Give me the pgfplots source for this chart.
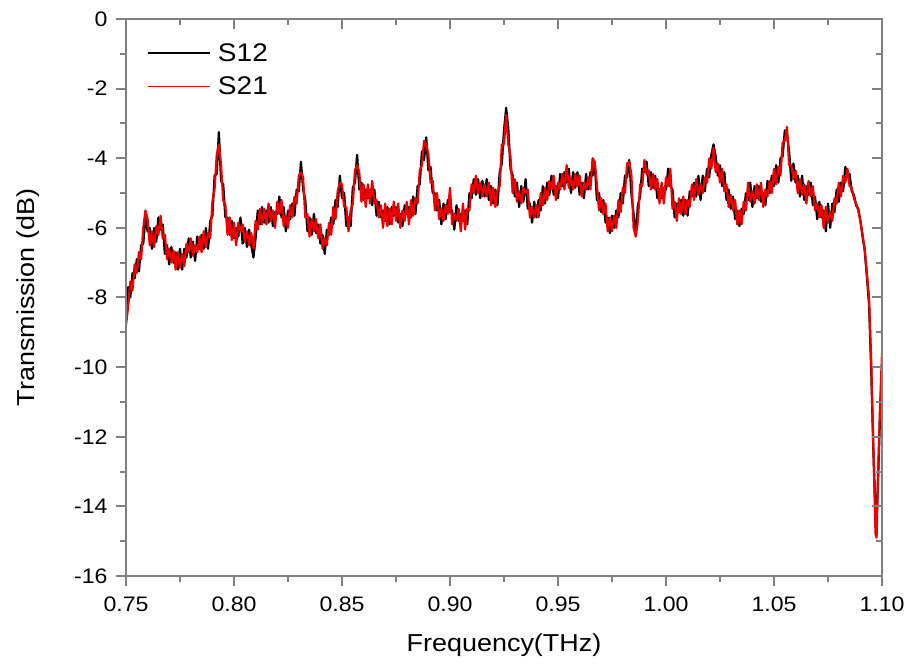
\documentclass[border=0pt]{standalone}
\usepackage{fontspec}
\setmainfont{Liberation Sans}[FakeStretch=1.1]
\usepackage{pgfplots}
\usepackage{pgfplotstable}
\pgfplotsset{compat=1.18}
\definecolor{axgray}{RGB}{128,128,128}
\definecolor{sred}{RGB}{238,0,0}

\pgfplotstableread{
x s12 s21
0.750 -8.60 -8.80
0.751 -7.70 -8.25
0.752 -8.00 -7.55
0.753 -7.30 -7.80
0.754 -7.45 -7.05
0.755 -6.90 -7.30
0.756 -7.25 -6.70
0.757 -6.50 -6.90
0.758 -6.45 -6.00
0.759 -5.70 -5.50
0.760 -6.10 -5.75
0.761 -6.00 -6.50
0.762 -6.60 -6.10
0.763 -6.00 -6.55
0.764 -6.40 -5.95
0.765 -5.70 -6.20
0.766 -6.05 -5.65
0.767 -5.90 -6.30
0.768 -6.75 -6.20
0.769 -6.50 -6.90
0.770 -7.05 -6.60
0.771 -6.55 -7.00
0.772 -7.00 -6.65
0.773 -6.70 -7.20
0.774 -7.20 -6.70
0.775 -6.60 -7.15
0.776 -7.20 -6.75
0.777 -6.60 -7.10
0.778 -6.85 -6.45
0.779 -6.30 -6.70
0.780 -6.85 -6.30
0.781 -6.40 -6.80
0.782 -6.95 -6.50
0.783 -6.25 -6.70
0.784 -6.60 -6.25
0.785 -6.20 -6.70
0.786 -6.60 -6.10
0.787 -6.00 -6.55
0.788 -6.60 -6.15
0.789 -5.80 -6.30
0.790 -5.65 -5.25
0.791 -4.50 -4.90
0.792 -4.45 -3.90
0.793 -3.25 -3.60
0.794 -4.65 -4.20
0.795 -4.75 -5.20
0.796 -5.70 -5.35
0.797 -5.70 -6.20
0.798 -6.20 -5.70
0.799 -5.80 -6.35
0.800 -6.30 -5.85
0.801 -6.00 -6.50
0.802 -6.25 -5.85
0.803 -5.70 -6.10
0.804 -6.45 -5.90
0.805 -6.00 -6.40
0.806 -6.55 -6.10
0.807 -6.05 -6.50
0.808 -6.50 -6.15
0.809 -6.85 -6.60
0.810 -6.30 -5.80
0.811 -5.50 -6.05
0.812 -5.90 -5.45
0.813 -5.40 -5.90
0.814 -5.85 -5.45
0.815 -5.50 -5.90
0.816 -5.85 -5.30
0.817 -5.40 -5.80
0.818 -5.95 -5.50
0.819 -5.55 -6.00
0.820 -5.60 -5.25
0.821 -5.10 -5.60
0.822 -5.70 -5.20
0.823 -5.40 -5.95
0.824 -6.10 -5.65
0.825 -5.50 -6.00
0.826 -5.75 -5.35
0.827 -5.30 -5.70
0.828 -5.65 -5.10
0.829 -4.90 -5.30
0.830 -4.95 -4.50
0.831 -4.10 -4.40
0.832 -4.90 -4.55
0.833 -5.20 -5.70
0.834 -6.10 -5.60
0.835 -5.70 -6.25
0.836 -6.20 -5.75
0.837 -5.60 -6.10
0.838 -6.15 -5.75
0.839 -5.90 -6.30
0.840 -6.45 -5.90
0.841 -6.20 -6.60
0.842 -6.75 -6.30
0.843 -6.05 -6.50
0.844 -6.20 -5.85
0.845 -5.70 -6.20
0.846 -5.90 -5.40
0.847 -5.20 -5.75
0.848 -5.40 -4.95
0.849 -4.50 -4.70
0.850 -5.15 -4.75
0.851 -5.00 -5.40
0.852 -5.95 -5.40
0.853 -5.70 -6.10
0.854 -5.95 -5.50
0.855 -4.85 -5.30
0.856 -4.70 -4.35
0.857 -3.90 -4.20
0.858 -4.90 -4.40
0.859 -4.70 -5.25
0.860 -5.20 -4.75
0.861 -4.90 -5.40
0.862 -5.15 -4.75
0.863 -4.90 -5.30
0.864 -5.35 -4.65
0.865 -4.90 -5.30
0.866 -5.65 -5.20
0.867 -5.25 -5.70
0.868 -5.70 -5.35
0.869 -5.50 -6.00
0.870 -5.80 -5.30
0.871 -5.40 -5.95
0.872 -5.90 -5.45
0.873 -5.40 -5.90
0.874 -5.65 -5.25
0.875 -5.40 -5.80
0.876 -5.85 -5.30
0.877 -5.60 -6.00
0.878 -5.95 -5.50
0.879 -5.35 -5.80
0.880 -5.60 -5.25
0.881 -5.40 -5.90
0.882 -5.70 -5.20
0.883 -5.10 -5.65
0.884 -5.60 -5.15
0.885 -4.80 -5.30
0.886 -4.75 -4.35
0.887 -3.80 -4.20
0.888 -4.05 -3.50
0.889 -3.40 -3.60
0.890 -4.35 -3.90
0.891 -4.25 -4.70
0.892 -5.00 -4.65
0.893 -5.00 -5.50
0.894 -5.50 -5.00
0.895 -5.20 -5.75
0.896 -5.90 -5.45
0.897 -5.30 -5.80
0.898 -5.75 -5.35
0.899 -5.20 -5.60
0.900 -5.55 -4.85
0.901 -5.50 -5.90
0.902 -6.05 -5.60
0.903 -5.35 -5.80
0.904 -5.80 -5.45
0.905 -5.60 -6.10
0.906 -5.80 -5.30
0.907 -5.50 -6.05
0.908 -5.90 -5.45
0.909 -5.00 -5.50
0.910 -5.15 -4.75
0.911 -4.60 -5.00
0.912 -5.05 -4.50
0.913 -4.60 -5.00
0.914 -5.15 -4.70
0.915 -4.65 -5.10
0.916 -5.10 -4.75
0.917 -4.60 -5.10
0.918 -5.20 -4.70
0.919 -4.80 -5.35
0.920 -5.30 -4.85
0.921 -4.90 -5.40
0.922 -5.35 -4.95
0.923 -4.40 -4.80
0.924 -4.15 -3.60
0.925 -3.20 -3.60
0.926 -2.55 -2.75
0.927 -3.15 -3.60
0.928 -4.30 -3.95
0.929 -4.50 -5.00
0.930 -5.10 -4.60
0.931 -4.70 -5.25
0.932 -5.40 -4.95
0.933 -4.80 -5.30
0.934 -5.25 -4.85
0.935 -4.60 -5.00
0.936 -5.45 -4.90
0.937 -5.30 -5.70
0.938 -5.85 -5.40
0.939 -5.25 -5.70
0.940 -5.70 -5.35
0.941 -5.20 -5.70
0.942 -5.50 -5.00
0.943 -4.80 -5.35
0.944 -5.30 -4.85
0.945 -4.70 -5.20
0.946 -5.05 -4.65
0.947 -4.50 -4.90
0.948 -5.05 -4.50
0.949 -4.80 -5.20
0.950 -5.15 -4.70
0.951 -4.45 -4.90
0.952 -4.80 -4.45
0.953 -4.40 -4.90
0.954 -4.70 -4.20
0.955 -4.30 -4.85
0.956 -5.00 -4.55
0.957 -4.40 -4.90
0.958 -4.85 -4.45
0.959 -4.40 -4.80
0.960 -5.05 -4.50
0.961 -4.70 -5.10
0.962 -5.15 -4.70
0.963 -4.45 -4.90
0.964 -4.90 -4.55
0.965 -4.40 -4.90
0.966 -4.50 -4.00
0.967 -4.10 -4.10
0.968 -5.20 -4.75
0.969 -5.00 -5.50
0.970 -5.55 -5.15
0.971 -5.20 -5.60
0.972 -5.85 -5.30
0.973 -5.70 -6.10
0.974 -6.15 -5.70
0.975 -5.65 -6.10
0.976 -6.00 -5.65
0.977 -5.50 -6.00
0.978 -5.70 -5.20
0.979 -5.00 -5.55
0.980 -5.30 -4.85
0.981 -4.50 -5.00
0.982 -4.55 -4.15
0.983 -4.05 -4.10
0.984 -5.05 -4.50
0.985 -5.60 -6.00
0.986 -6.20 -6.25
0.987 -5.35 -5.80
0.988 -5.10 -4.75
0.989 -4.30 -4.80
0.990 -4.40 -4.05
0.991 -4.10 -4.45
0.992 -4.80 -4.35
0.993 -4.40 -4.90
0.994 -4.85 -4.45
0.995 -4.50 -4.90
0.996 -5.15 -4.60
0.997 -4.90 -5.30
0.998 -5.15 -4.70
0.999 -4.85 -5.30
1.000 -4.90 -4.55
1.001 -4.30 -4.80
1.002 -4.80 -4.30
1.003 -4.90 -5.45
1.004 -5.70 -5.25
1.005 -5.30 -5.80
1.006 -5.55 -5.15
1.007 -5.20 -5.60
1.008 -5.65 -5.10
1.009 -5.20 -5.60
1.010 -5.65 -5.20
1.011 -4.95 -5.40
1.012 -5.10 -4.75
1.013 -4.70 -5.20
1.014 -5.10 -4.60
1.015 -4.50 -5.05
1.016 -5.20 -4.75
1.017 -4.50 -5.00
1.018 -4.95 -4.55
1.019 -4.30 -4.70
1.020 -4.55 -4.00
1.021 -3.90 -4.30
1.022 -3.60 -3.70
1.023 -3.95 -4.40
1.024 -4.50 -4.15
1.025 -4.20 -4.70
1.026 -4.80 -4.30
1.027 -4.40 -4.95
1.028 -5.20 -4.75
1.029 -4.90 -5.40
1.030 -5.45 -5.05
1.031 -5.10 -5.50
1.032 -5.75 -5.20
1.033 -5.50 -5.90
1.034 -5.95 -5.50
1.035 -5.45 -5.90
1.036 -5.60 -5.25
1.037 -5.00 -5.50
1.038 -5.20 -4.70
1.039 -4.70 -5.25
1.040 -5.40 -4.95
1.041 -4.80 -5.30
1.042 -5.15 -4.75
1.043 -4.80 -5.20
1.044 -5.25 -4.70
1.045 -5.00 -5.40
1.046 -5.35 -4.90
1.047 -4.65 -5.10
1.048 -5.00 -4.65
1.049 -4.50 -5.00
1.050 -4.80 -4.30
1.051 -4.20 -4.75
1.052 -4.70 -4.25
1.053 -4.00 -4.50
1.054 -3.95 -3.55
1.055 -3.20 -3.50
1.056 -3.30 -3.10
1.057 -3.80 -4.20
1.058 -4.65 -4.20
1.059 -4.15 -4.60
1.060 -4.70 -4.35
1.061 -4.50 -5.00
1.062 -5.10 -4.60
1.063 -4.50 -5.05
1.064 -5.20 -4.75
1.065 -4.80 -5.30
1.066 -5.05 -4.65
1.067 -4.70 -5.10
1.068 -5.35 -4.80
1.069 -5.10 -5.50
1.070 -5.75 -5.30
1.071 -5.25 -5.70
1.072 -5.70 -5.35
1.073 -5.50 -6.00
1.074 -6.10 -5.40
1.075 -5.30 -5.85
1.076 -6.00 -5.55
1.077 -5.30 -5.80
1.078 -5.55 -5.15
1.079 -4.90 -5.30
1.080 -5.25 -4.70
1.081 -4.70 -5.10
1.082 -4.95 -4.50
1.083 -4.25 -4.70
1.084 -4.50 -4.30
1.085 -4.45 -4.80
1.086 -4.95 -4.85
1.087 -5.05 -5.15
1.088 -5.35 -5.30
1.089 -5.45 -5.50
1.090 -5.80 -5.80
1.091 -6.25 -6.20
1.092 -6.65 -6.60
1.093 -7.40 -7.30
1.094 -8.20 -8.00
1.095 -10.10 -9.80
1.096 -12.40 -12.30
1.097 -14.20 -14.80
1.0975 -14.30 -14.90
1.098 -13.60 -13.50
1.099 -11.60 -11.30
1.100 -10.00 -9.60
}\datatable

\begin{document}
\begin{tikzpicture}
\useasboundingbox (0,0) rectangle (905pt,664pt);
\pgfplotsset{
  frame/.style={
    at={(126pt,88pt)}, anchor=south west,
    scale only axis, width=756pt, height=557pt,
    xmin=0.75, xmax=1.10, ymin=-16, ymax=0,
    xtick={0.75,0.80,0.85,0.90,0.95,1.00,1.05,1.10},
    ytick={-16,-14,-12,-10,-8,-6,-4,-2,0},
    minor x tick num=1, minor y tick num=1,
    axis line style={axgray, line width=2pt},
    every tick/.style={axgray, line width=2pt},
    major tick length=10pt, minor tick length=6pt,
  }
}
\begin{axis}[frame,
    xtick pos=left, ytick pos=left, tick align=outside,
    tick label style={font=\fontsize{21}{25}\selectfont, black},
    xticklabel shift=7pt, yticklabel shift=5pt,
    x tick label style={/pgf/number format/.cd, fixed, fixed zerofill, precision=2, assume math mode=true},
    y tick label style={/pgf/number format/.cd, assume math mode=true},
    xlabel={Frequency(THz)}, ylabel={Transmission (dB)},
    label style={font=\fontsize{24.5}{28}\selectfont},
    xlabel style={at={(axis description cs:0.5,-0.124)}, anchor=center},
    ylabel style={at={(axis description cs:-0.13,0.5)}, anchor=center},
    legend style={at={(axis description cs:0.028,0.96)}, anchor=north west,
      draw=none, fill=none, font=\fontsize{25.5}{29}\selectfont,
      row sep=10pt, column sep=5pt, inner sep=0pt},
    legend cell align=left,
    legend image code/.code={\draw[#1, line width=1.6pt] (0pt,0pt) -- (62pt,0pt);},
  ]
\addplot[black, line width=2.2pt, line join=round] table[x=x, y=s12] {\datatable};
\addplot[sred, line width=2.2pt, line join=round] table[x=x, y=s21] {\datatable};
\legend{S12,S21}
\end{axis}
\begin{axis}[frame,
    xtick pos=right, ytick pos=right, tick align=inside,
    xticklabels={}, yticklabels={},
  ]
\end{axis}
\end{tikzpicture}
\end{document}
